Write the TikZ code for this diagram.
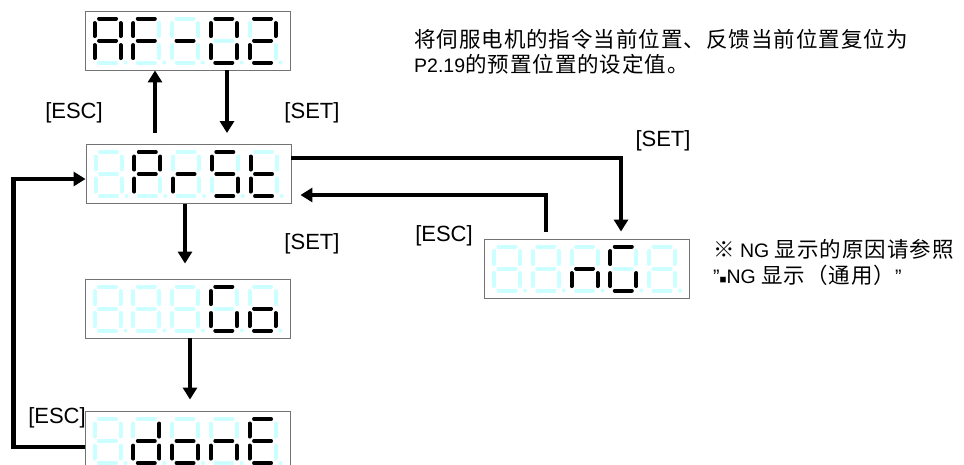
\documentclass[tikz,border=0pt]{standalone}
\usepackage{fontspec}
\setmainfont{Liberation Sans}
\newfontfamily\cjk[LetterSpace=4.5]{Noto Sans CJK SC}
\usetikzlibrary{arrows.meta, calc}

\definecolor{segcyan}{RGB}{204,255,255}
\newcommand\cjtext[1]{{\cjk\fontsize{21.5}{26}\selectfont #1}}
% seven segments of one digit, local coordinates
\def\segxa{(4.5,0) -- (21.5,0)}
\def\segxb{(26,4.5) -- (26,17.5)}
\def\segxc{(26,26.5) -- (26,39.5)}
\def\segxd{(4.5,44) -- (21.5,44)}
\def\segxe{(0,26.5) -- (0,39.5)}
\def\segxf{(0,4.5) -- (0,17.5)}
\def\segxg{(4.5,22) -- (21.5,22)}
\def\segxn{(0,0)}
\newcommand\segdigit[3]{%
  \edef\seglist{#3}
  \begin{scope}[shift={($(#1.north west)+(10+#2*38.75,8)$)}]
    \foreach \s in {a,b,c,d,e,f,g}
      {\draw[segoff] \csname segx\s\endcsname;}
    \fill[segcyan] (31,44) circle (2pt);
    \foreach \s in \seglist
      {\draw[segon] \csname segx\s\endcsname;}
  \end{scope}}

\begin{document}
\begin{tikzpicture}[x=1pt, y=-1pt,
    display/.style={rectangle, draw=gray!90!black, line width=0.9pt, fill=white, minimum width=205pt, minimum height=59pt, inner sep=0pt},
    segoff/.style={draw=segcyan, line width=4pt, line cap=round},
    segon/.style={draw=black, line width=4pt, line cap=round},
    arrow/.style={-{Triangle[length=12pt, width=14pt]}, line width=4.5pt},
    key/.style={inner sep=0pt, font=\fontsize{22}{26}\selectfont},
    note/.style={inner sep=0pt, font=\fontsize{19.5}{23}\selectfont, anchor=base west}
]
\clip (0,0) rectangle (964,464);
% Displays
\node[display] (af) at (187.5,40.5) {};
\node[display] (prst) at (188.5,174) {};
\node[display] (go) at (187.5,308.5) {};
\node[display] (done) at (187.5,441) {};
\node[display] (ng) at (587,268.5) {};
% Digits
\foreach \i/\l in {0/{a,b,c,e,f,g}, 1/{a,e,f,g}, 2/g, 3/{a,b,c,d,e,f}, 4/{a,b,d,e,g}}
  {\segdigit{af}{\i}{\l}}
\foreach \i/\l in {0/n, 1/{a,b,e,f,g}, 2/{e,g}, 3/{a,c,d,f,g}, 4/{d,e,f,g}}
  {\segdigit{prst}{\i}{\l}}
\foreach \i/\l in {0/n, 1/n, 2/n, 3/{a,c,d,e,f}, 4/{c,d,e,g}}
  {\segdigit{go}{\i}{\l}}
\foreach \i/\l in {0/n, 1/{b,c,d,e,g}, 2/{c,d,e,g}, 3/{c,e,g}, 4/{a,d,e,f,g}}
  {\segdigit{done}{\i}{\l}}
\foreach \i/\l in {0/n, 1/n, 2/{c,e,g}, 3/{a,c,d,e,f}, 4/n}
  {\segdigit{ng}{\i}{\l}}
% Arrows between displays
\draw[arrow] ([xshift=-33.5pt,yshift=11pt]prst.north) -- ([xshift=-32.5pt]af.south);
\draw[arrow] ([xshift=39.5pt]af.south) -- ([xshift=38.5pt,yshift=11pt]prst.north);
\draw[arrow] ([xshift=-3.5pt]prst.south) -- ([xshift=-2.5pt,yshift=15pt]go.north);
\draw[arrow] ([xshift=2.5pt]go.south) -- ([xshift=2.5pt,yshift=11.5pt]done.north);
\draw[arrow] ([yshift=-6pt]done.west) -- ++(-71,0) |- ([yshift=-5pt]prst.west);
\draw[arrow] ([yshift=16pt]prst.east) -| ([xshift=34pt,yshift=7pt]ng.north);
\draw[arrow] ([xshift=-41pt,yshift=7pt]ng.north) |- ([xshift=9pt,yshift=-21pt]prst.east);
% Key labels
\node[key] (escup) at (74,112.5) {[ESC]};
\node[key] (setdown) at (312,112.5) {[SET]};
\node[key] (setgo) at (312,244) {[SET]};
\node[key] (escback) at (57,417.5) {[ESC]};
\node[key] (setng) at (663,141) {[SET]};
\node[key] (escng) at (444,236) {[ESC]};
% Notes
\node[note] (desc1) at (414,47.5) {\cjtext{将伺服电机的指令当前位置、反馈当前位置复位为}};
\node[note] (desc2) at (414,72) {P2.19\cjtext{的预置位置的设定值。}};
\node[note] (ngnote1) at (713,257) {\cjtext{※} NG \cjtext{显示的原因请参照}};
\node[note] (ngnote2) at (713,283) {"{\fontsize{11.5}{13}\selectfont ■}NG \cjtext{显示（通用）}"};
\end{tikzpicture}
\end{document}
